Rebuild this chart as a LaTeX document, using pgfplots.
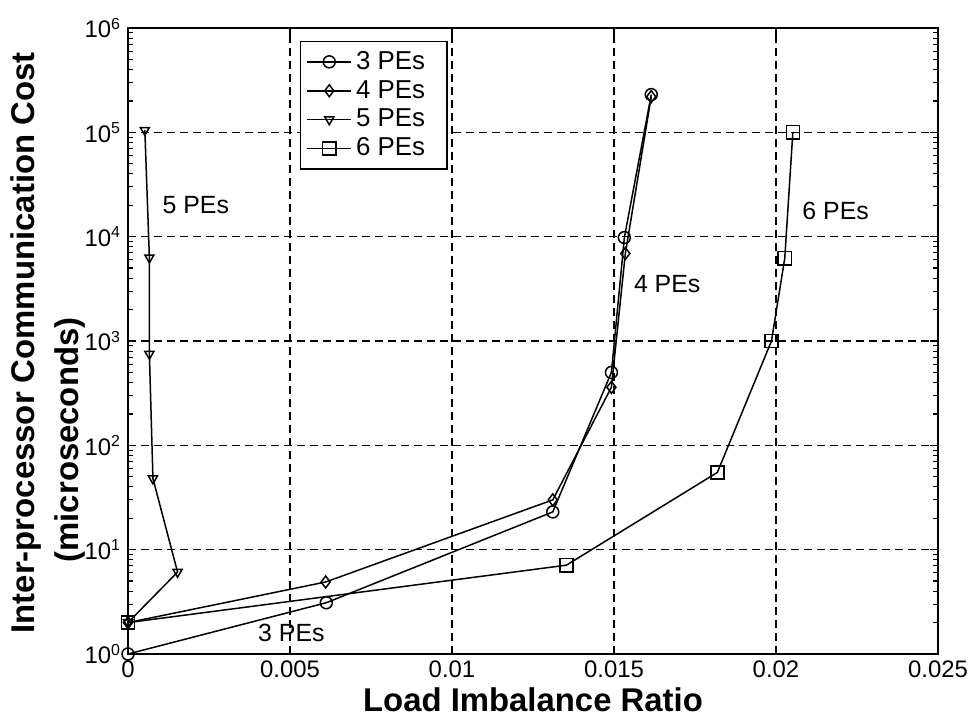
\documentclass[border=0pt]{standalone}
\usepackage{fontspec}
\setmainfont{Liberation Sans}
\usepackage{pgfplots}
\pgfplotsset{compat=1.18}

\begin{document}
\begin{tikzpicture}
\begin{axis}[
  name=ax,
  scale only axis,
  clip mode=individual,
  width=405bp, height=313bp,
  xmin=0, xmax=0.025,
  ymode=log, ymin=1, ymax=1e6,
  scaled x ticks=false,
  xtick={0,0.005,0.01,0.015,0.02,0.025},
  xticklabels={0,0.005,0.01,0.015,0.02,0.025},
  ytick={1,10,100,1000,10000,100000,1000000},
  yticklabels={10\textsuperscript{0},10\textsuperscript{1},10\textsuperscript{2},10\textsuperscript{3},10\textsuperscript{4},10\textsuperscript{5},10\textsuperscript{6}},
  minor ytick={2,3,4,5,6,7,8,9,20,30,40,50,60,70,80,90,200,300,400,500,600,700,800,900,2000,3000,4000,5000,6000,7000,8000,9000,20000,30000,40000,50000,60000,70000,80000,90000,200000,300000,400000,500000,600000,700000,800000,900000},
  tick align=inside,
  major tick length=4bp, minor tick length=2.5bp,
  tick style={black, line width=0.6bp},
  ticklabel style={font=\fontsize{12}{14}\selectfont},
  axis line style={line width=1bp},
  xmajorgrids, ymajorgrids,
  grid style={black, dashed, line width=0.8bp, dash pattern=on 4bp off 2.5bp},
  xlabel={\textbf{Load Imbalance Ratio}},
  ylabel={\textbf{Inter-processor Communication Cost}},
  label style={font=\fontsize{16.5}{20.5}\selectfont},
  ylabel style={at={(axis description cs:-0.115,0.497)}, anchor=base},
  xlabel style={at={(axis description cs:0.5,-0.073)}, anchor=center},
  legend style={at={(0.212,0.98)}, anchor=north west, draw=black, line width=0.8bp,
                font=\fontsize{13}{15}\selectfont, row sep=0bp, inner sep=3bp},
  legend cell align=left,
  legend image code/.code={\draw[mark repeat=2,mark phase=2,#1] plot coordinates {(0bp,0bp)(11bp,0bp)(22bp,0bp)};},
  every axis plot/.append style={black, line width=0.75bp, mark options={solid, fill=white, line width=0.75bp}},
]
\addplot[mark=o, mark size=3bp] coordinates {
  (0,1) (0.00612,3.1) (0.01311,23) (0.01492,500) (0.01532,9800) (0.01615,230000)};
\addplot[mark=diamond, mark size=3bp] coordinates {
  (0,2) (0.0061,4.9) (0.01311,30) (0.01492,360) (0.01535,6900) (0.01615,220000)};
\addplot[mark=triangle, mark size=2.6bp, mark options={rotate=180}] coordinates {
  (0.00052,105000) (0.00066,6300) (0.00066,750) (0.00077,48) (0.00153,6.1) (0,2)};
\addplot[mark=square, mark size=3.3bp] coordinates {
  (0,2) (0.01353,7.1) (0.01819,55) (0.01986,1000) (0.02027,6200) (0.02052,100000)};
\legend{3 PEs\hspace*{6bp}, 4 PEs\hspace*{6bp}, 5 PEs\hspace*{6bp}, 6 PEs\hspace*{6bp}}
\node[rotate=90, anchor=base, font=\fontsize{16.5}{20.5}\selectfont] at (axis description cs:-0.0605,0.342) {\textbf{(microseconds)}};
\node[anchor=west, font=\fontsize{12.5}{14}\selectfont] at (axis cs:0.00085,20000) {5 PEs};
\node[anchor=west, font=\fontsize{12.5}{14}\selectfont] at (axis cs:0.0154,3550) {4 PEs};
\node[anchor=west, font=\fontsize{12.5}{14}\selectfont] at (axis cs:0.0206,17800) {6 PEs};
\node[anchor=west, font=\fontsize{12.5}{14}\selectfont] at (axis cs:0.0038,1.59) {3 PEs};
\end{axis}
\pgfresetboundingbox
\path[use as bounding box] ([xshift=-64bp,yshift=-32bp]ax.south west) rectangle ([xshift=18.5bp,yshift=14bp]ax.north east);
\end{tikzpicture}
\end{document}
